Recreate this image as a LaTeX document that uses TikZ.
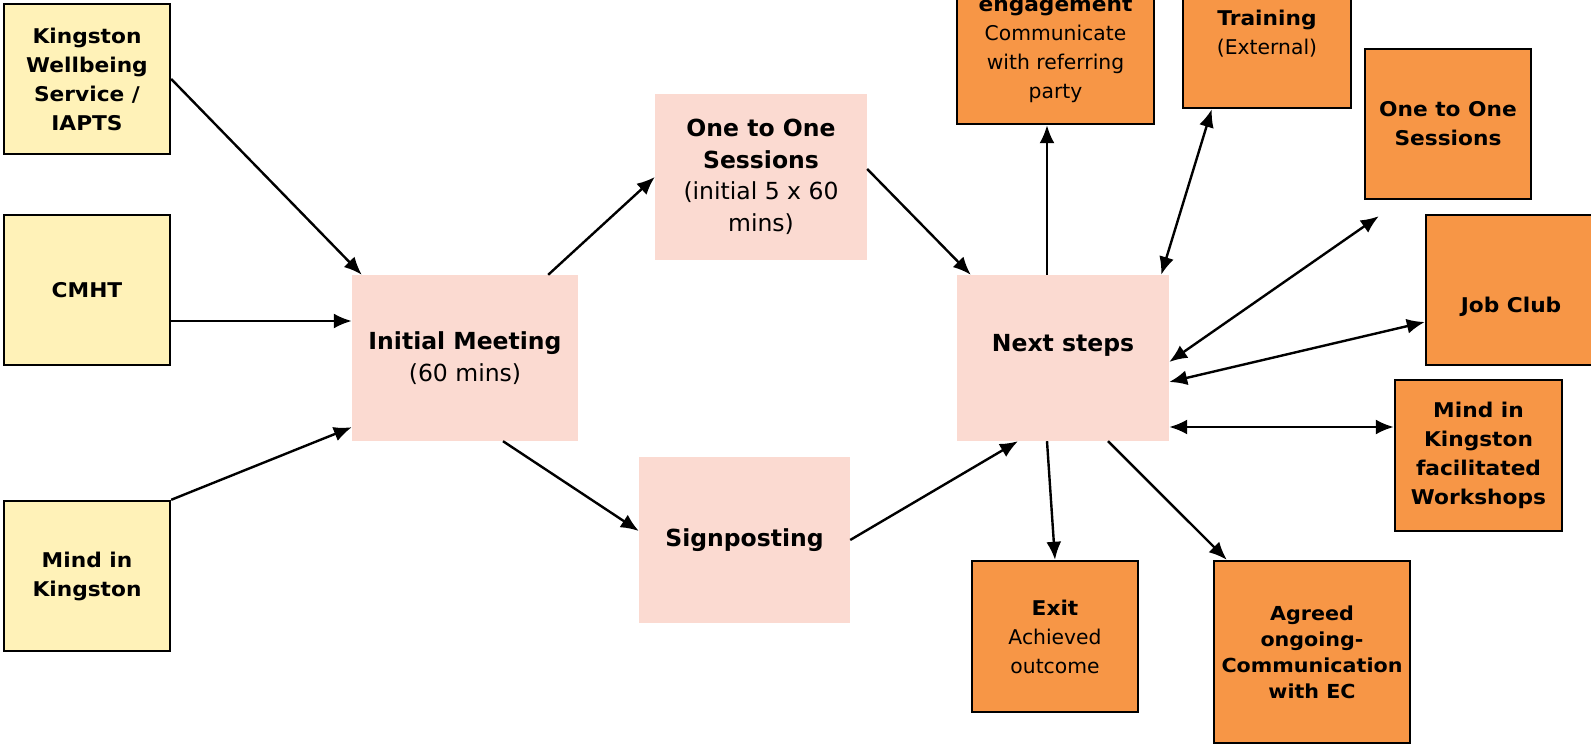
\documentclass[tikz,border=0pt]{standalone}
\usepackage{fontspec}
\setmainfont{DejaVu Sans}[BoldFeatures={FakeStretch=1.07}]
\newfontfamily\plainfam{DejaVu Sans}
\usetikzlibrary{arrows.meta}
\definecolor{refyellow}{HTML}{FFF2B8}
\definecolor{refpink}{HTML}{FBDAD1}
\definecolor{reforange}{HTML}{F79646}
\tikzset{
  yellowbox/.style={draw,line width=2.4pt,fill=refyellow,minimum width=166pt,minimum height=150pt,inner sep=0pt,align=center,font=\bfseries\fontsize{20.3pt}{29pt}\selectfont},
  pinkbox/.style={fill=refpink,inner sep=0pt,align=center,font=\plainfam\bfseries\fontsize{23.5pt}{31.5pt}\selectfont},
  orangebox/.style={draw,line width=2.4pt,fill=reforange,inner sep=0pt,align=center,font=\bfseries\fontsize{20.3pt}{29pt}\selectfont},
  arr/.style={line width=2.4pt,-{Latex[length=18pt,width=15pt]}},
  biarr/.style={line width=2.4pt,{Latex[length=18pt,width=15pt]}-{Latex[length=18pt,width=15pt]}}
}
\begin{document}
\begin{tikzpicture}[x=1pt,y=-1pt]
\useasboundingbox (0,0) rectangle (1591,746);
% referrers
\node[yellowbox] (kws) at (87,79) {Kingston\\Wellbeing\\Service /\\IAPTS};
\node[yellowbox] (cmht) at (87,290) {CMHT};
\node[yellowbox] (mind) at (87,576) {Mind in\\Kingston};
% pathway
\node[pinkbox,minimum width=226pt,minimum height=166pt] (initial) at (465,358) {Initial Meeting\\{\mdseries (60 mins)}};
\node[pinkbox,minimum width=212pt,minimum height=166pt] (oto) at (761,177) {One to One\\Sessions\\{\mdseries (initial 5 x 60}\\{\mdseries mins)}};
\node[pinkbox,minimum width=211pt,minimum height=166pt] (sign) at (744.5,540) {Signposting};
\node[pinkbox,minimum width=212pt,minimum height=166pt] (next) at (1063,358) {\raisebox{30pt}{Next steps}};
% outcomes
\node[orangebox,minimum width=197pt,minimum height=148pt] (engage) at (1055.5,50) {engagement\\{\mdseries Communicate}\\{\mdseries with referring}\\{\mdseries party}};
\node[orangebox,minimum width=168pt,minimum height=148pt] (train) at (1267,34) {Training\\{\mdseries (External)}};
\node[orangebox,minimum width=166pt,minimum height=150pt] (oto2) at (1448,124) {One to One\\Sessions};
\node[orangebox,minimum width=170pt,minimum height=150pt] (job) at (1511,290) {\raisebox{-50pt}{Job Club}};
\node[orangebox,minimum width=167pt,minimum height=151pt] (mindws) at (1478.5,455.5) {Mind in\\Kingston\\facilitated\\Workshops};
\node[orangebox,minimum width=166pt,minimum height=151pt] (exit) at (1055,636.5) {Exit\\{\mdseries Achieved}\\{\mdseries outcome}};
\node[orangebox,minimum width=196pt,minimum height=182pt,font=\bfseries\fontsize{19.3pt}{26pt}\selectfont] (agreed) at (1312,652) {Agreed\\ongoing-\\Communication\\with EC};
% connectors
\draw[arr] (kws.east) -- ([xshift=10pt]initial.north west);
\draw[arr] ([yshift=-31pt]cmht.east) -- ([yshift=-31pt]cmht.east -| initial.west);
\draw[arr] (mind.north east) -- ([yshift=14pt]initial.south west);
\draw[arr] ([xshift=-30pt]initial.north east) -- (oto.west);
\draw[arr] ([xshift=38pt]initial.south) -- ([yshift=9pt]sign.west);
\draw[arr] ([yshift=8pt]oto.east) -- ([xshift=14pt]next.north west);
\draw[arr] (sign.east) -- ([xshift=-45pt]next.south);
\draw[arr] ([xshift=-16pt]next.north) -- ([xshift=-16pt]next.north |- engage.south);
\draw[biarr] ([xshift=-8pt]next.north east) -- ([xshift=30pt]train.south west);
\draw[biarr] ([yshift=-4pt]next.east) -- ([shift={(15pt,-16pt)}]oto2.south west);
\draw[biarr] ([yshift=-24pt]next.east) -- ([yshift=-32pt]job.west);
\draw[biarr] ([yshift=-69pt]next.east) -- ([yshift=-69pt]next.east -| mindws.west);
\draw[arr] ([xshift=-16pt]next.south) -- (exit.north);
\draw[arr] ([xshift=45pt]next.south) -- ([xshift=14pt]agreed.north west);
\end{tikzpicture}
\end{document}
